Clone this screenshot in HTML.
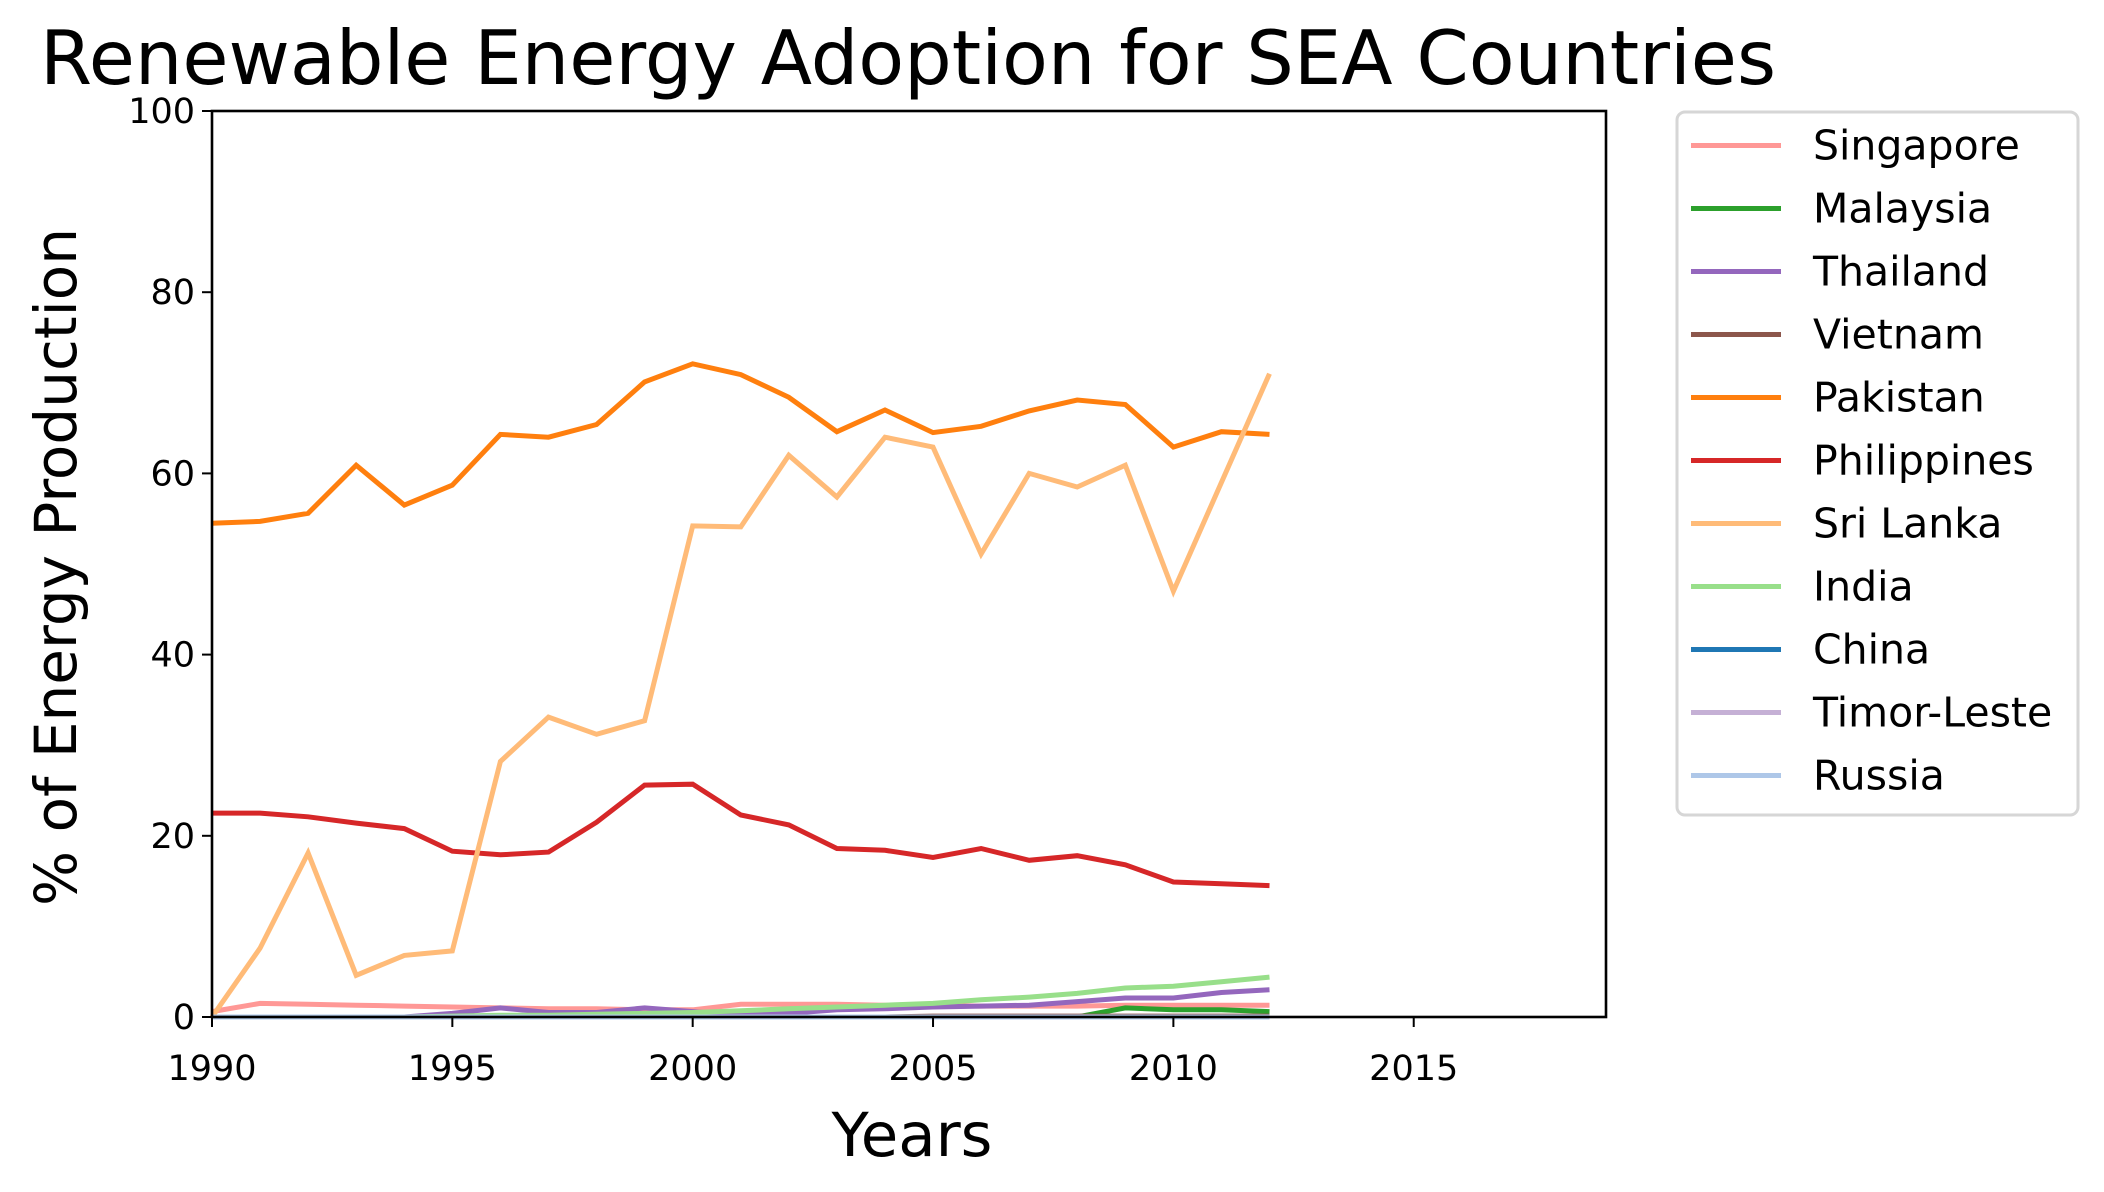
<!DOCTYPE html>
<html><head><meta charset="utf-8"><style>
html,body{margin:0;padding:0;background:#fff;}
svg{display:block;font-family:"DejaVu Sans","Liberation Sans",sans-serif;}
</style></head><body>
<svg id="chart" width="2104" height="1192" viewBox="0 0 2104 1192" xmlns="http://www.w3.org/2000/svg">
<rect width="2104" height="1192" fill="#fff"/>
<text x="40" y="84" font-size="75">Renewable Energy Adoption for SEA Countries</text>
<text x="912" y="1156" font-size="61" text-anchor="middle">Years</text>
<text transform="translate(76,567) rotate(-90)" font-size="58" text-anchor="middle">% of Energy Production</text>
<g id="plot"></g>
<g id="legend"></g>
</svg>
<script>
const years = [1990,1991,1992,1993,1994,1995,1996,1997,1998,1999,2000,2001,2002,2003,2004,2005,2006,2007,2008,2009,2010,2011,2012];
const countries = ["Singapore","Malaysia","Thailand","Vietnam","Pakistan","Philippines","Sri Lanka","India","China","Timor-Leste","Russia"];
const colors = ["#ff9896","#2ca02c","#9467bd","#8c564b","#ff7f0e","#d62728","#ffbb78","#98df8a","#1f77b4","#c5b0d5","#aec7e8"];
const singapore = [0.6,1.5,1.4,1.3,1.2,1.1,1.0,0.9,0.9,0.8,0.8,1.4,1.4,1.4,1.3,1.3,1.2,1.2,1.2,1.3,1.3,1.3,1.3];
const malaysia = [0,0,0,0,0,0,0,0,0,0,0,0,0,0,0,0,0,0,0,1.0,0.8,0.8,0.6];
const thailand = [0,0,0,0,0,0.4,1.0,0.5,0.5,1.0,0.6,0.2,0.4,0.8,0.9,1.1,1.2,1.3,1.7,2.1,2.1,2.7,3.0];
const vietnam = [0,0,0,0,0,0,0,0,0,0,0,0,0,0,0,0.1,0.1,0.1,0.1,0.1,0.1,0.1,0.1];
const pakistan = [54.5,54.7,55.6,60.9,56.5,58.7,64.3,64.0,65.4,70.1,72.1,70.9,68.4,64.6,67.0,64.5,65.2,66.9,68.1,67.6,62.9,64.6,64.3];
const philippines = [22.5,22.5,22.1,21.4,20.8,18.3,17.9,18.2,21.5,25.6,25.7,22.3,21.2,18.6,18.4,17.6,18.6,17.3,17.8,16.8,14.9,14.7,14.5];
const srilanka = [0,7.6,18.1,4.6,6.8,7.3,28.2,33.1,31.2,32.7,54.2,54.1,62.0,57.4,64.0,62.9,51.1,60.0,58.5,60.9,47.0,59.0,71.0];
const india = [0,0,0,0,0,0.1,0.2,0.2,0.3,0.4,0.5,0.7,0.9,1.1,1.3,1.5,1.9,2.2,2.6,3.2,3.4,3.9,4.4];
const china = [0,0,0,0,0,0,0,0,0,0,0,0,0,0,0,0,0,0,0,0,0,0,0];
const timor = [0,0,0,0,0,0,0,0,0,0,0,0,0,0,0,0,0,0,0,0,0,0,0];
const russia = [0,0,0,0,0,0,0,0,0,0,0,0,0,0,0,0,0,0,0,0,0,0,0];
const seriesValues = [singapore,malaysia,thailand,vietnam,pakistan,philippines,srilanka,india,china,timor,russia];
const xTicks = [1990,1995,2000,2005,2010,2015];
const yTicks = [0,20,40,60,80,100];

const NS="http://www.w3.org/2000/svg";
const L=212,R=1606,T=111,B=1017,X0=1990,X1=2019,Y0=0,Y1=100;
const xs=v=>L+(v-X0)/(X1-X0)*(R-L);
const ys=v=>B-(v-Y0)/(Y1-Y0)*(B-T);
function mk(tag,attrs,parent){const e=document.createElementNS(NS,tag);for(const k in attrs)e.setAttribute(k,attrs[k]);parent.appendChild(e);return e;}
const plot=document.getElementById('plot');
const slugs=["singapore","malaysia","thailand","vietnam","pakistan","philippines","sri-lanka","india","china","timor-leste","russia"];
seriesValues.forEach((vals,i)=>{
  const d=vals.map((v,j)=>(j?'L':'M')+xs(years[j]).toFixed(1)+','+ys(v).toFixed(1)).join('');
  const p=mk('path',{d:d,fill:'none',stroke:colors[i],'stroke-width':5,'stroke-linejoin':'miter'},plot);
  
  
});
const frame=mk('rect',{x:L,y:T,width:R-L,height:B-T,fill:'none',stroke:'#000','stroke-width':2.6},plot);


xTicks.forEach(t=>{
  const x=xs(t);
  const tk=mk('line',{x1:x,x2:x,y1:B,y2:B+10,stroke:'#000','stroke-width':2},plot);
  
  
  const tx=mk('text',{x:x,y:1080,'font-size':35,'text-anchor':'middle'},plot);
  tx.textContent=t;
  
  
});
yTicks.forEach(t=>{
  const y=ys(t);
  const tk=mk('line',{x1:L-10,x2:L,y1:y,y2:y,stroke:'#000','stroke-width':2},plot);
  
  
  const tx=mk('text',{x:L-17,y:y+12,'font-size':35,'text-anchor':'end'},plot);
  tx.textContent=t;
  
  
});
const lg=document.getElementById('legend');
const box=mk('rect',{x:1677,y:112,width:401,height:703,rx:8,fill:'#fff',stroke:'#d6d6d6','stroke-width':3},lg);


countries.forEach((c,i)=>{
  const y=145.5+i*63;
  const ln=mk('line',{x1:1691,x2:1781,y1:y,y2:y,stroke:colors[i],'stroke-width':5},lg);
  
  
  const tx=mk('text',{x:1813,y:y+14,'font-size':41},lg);
  tx.textContent=c;
  
  
});
</script>
</body></html>
